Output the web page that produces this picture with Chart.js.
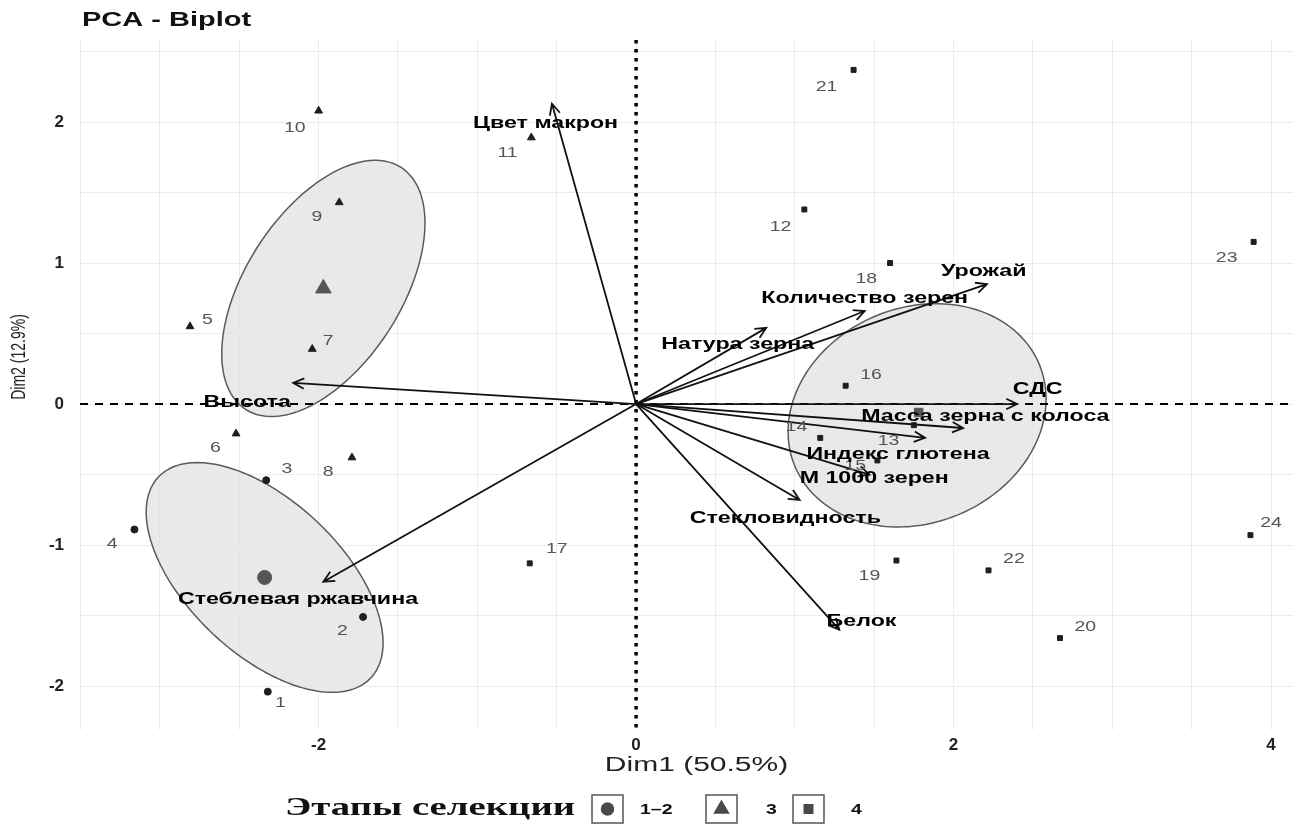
<!DOCTYPE html>
<html>
<head>
<meta charset="utf-8">
<title>PCA - Biplot</title>
<script src="https://cdn.jsdelivr.net/npm/chart.js@4.4.1/dist/chart.umd.min.js"></script>
<style>
    html, body { margin: 0; padding: 0; background: #fff; }
</style>
</head>
<body>
<canvas id="biplotChart" width="1303" height="831"></canvas>
<script>
// individuals, by selection stage
const stage12Ids = ['1', '2', '3', '4'];
const stage12X = [-2.32, -1.72, -2.33, -3.16];
const stage12Y = [-2.04, -1.51, -0.54, -0.89];
const stage12LabelX = [-2.24, -1.85, -2.20, -3.30];
const stage12LabelY = [-2.12, -1.61, -0.46, -0.99];

const stage3Ids = ['5', '6', '7', '8', '9', '10', '11'];
const stage3X = [-2.81, -2.52, -2.04, -1.79, -1.87, -2.00, -0.66];
const stage3Y = [0.55, -0.21, 0.39, -0.38, 1.43, 2.08, 1.89];
const stage3LabelX = [-2.70, -2.65, -1.94, -1.94, -2.01, -2.15, -0.81];
const stage3LabelY = [0.60, -0.31, 0.45, -0.48, 1.33, 1.96, 1.78];

const stage4Ids = ['12', '13', '14', '15', '16', '17', '18', '19', '20', '21', '22', '23', '24'];
const stage4X = [1.06, 1.75, 1.16, 1.52, 1.32, -0.67, 1.60, 1.64, 2.67, 1.37, 2.22, 3.89, 3.87];
const stage4Y = [1.38, -0.15, -0.24, -0.40, 0.13, -1.13, 1.00, -1.11, -1.66, 2.37, -1.18, 1.15, -0.93];
const stage4LabelX = [0.91, 1.59, 1.01, 1.38, 1.48, -0.50, 1.45, 1.47, 2.83, 1.20, 2.38, 3.72, 4.00];
const stage4LabelY = [1.26, -0.26, -0.16, -0.44, 0.21, -1.03, 0.89, -1.22, -1.58, 2.25, -1.10, 1.04, -0.84];

// group means and concentration ellipses
const stageNames = ['1–2', '3', '4'];
const meanX = [-2.34, -1.97, 1.78];
const meanY = [-1.23, 0.82, -0.06];
const ellipseCx = [-2.34, -1.97, 1.77];
const ellipseCy = [-1.23, 0.82, -0.08];
const ellipseA = [0.98, 0.99, 0.86];
const ellipseB = [0.51, 0.505, 0.74];
const ellipseAngle = [-49.4, 62.5, 40];

// variables (loadings)
const varNames = ['Цвет макрон', 'Урожай', 'Количество зерен', 'Натура зерна', 'СДС',
    'Масса зерна с колоса', 'Индекс глютена', 'М 1000 зерен', 'Стекловидность', 'Белок',
    'Высота', 'Стеблевая ржавчина'];
const varX = [-0.53, 2.21, 1.44, 0.82, 2.40, 2.06, 1.82, 1.47, 1.03, 1.28, -2.16, -1.97];
const varY = [2.13, 0.85, 0.66, 0.54, 0.00, -0.17, -0.24, -0.50, -0.68, -1.60, 0.15, -1.26];
const varLabelX = [-0.57, 2.19, 1.44, 0.64, 2.53, 2.20, 1.65, 1.50, 0.94, 1.42, -2.45, -2.13];
const varLabelY = [1.99, 0.94, 0.75, 0.42, 0.10, -0.09, -0.36, -0.53, -0.81, -1.54, 0.01, -1.39];

const toPoints = (xs, ys) => xs.map((x, i) => ({x: x, y: ys[i]}));

const sansFont = '"Liberation Sans", Arial, sans-serif';
// the picture is wider than tall, so its lettering is stretched sideways
const stretch = 1.45;

const wideText = (ctx, text, px, py, sx) => {
    ctx.save();
    ctx.translate(px, py);
    ctx.scale(sx, 1);
    ctx.fillText(text, 0, 0);
    ctx.restore();
};

const biplotPlugin = {
    id: 'biplotExtras',
    beforeDatasetsDraw(chart) {
        const {ctx, chartArea, scales: {x, y}} = chart;
        ctx.save();

        // ellipses
        ellipseCx.forEach((cx, i) => {
            const th = ellipseAngle[i] * Math.PI / 180;
            ctx.beginPath();
            for (let k = 0; k <= 180; k++) {
                const phi = k / 180 * 2 * Math.PI;
                const dx = ellipseA[i] * Math.cos(phi) * Math.cos(th) - ellipseB[i] * Math.sin(phi) * Math.sin(th);
                const dy = ellipseA[i] * Math.cos(phi) * Math.sin(th) + ellipseB[i] * Math.sin(phi) * Math.cos(th);
                const px = x.getPixelForValue(cx + dx);
                const py = y.getPixelForValue(ellipseCy[i] + dy);
                if (k === 0) ctx.moveTo(px, py); else ctx.lineTo(px, py);
            }
            ctx.closePath();
            ctx.fillStyle = 'rgba(226, 226, 226, 0.75)';
            ctx.fill();
            ctx.strokeStyle = '#5a5a5a';
            ctx.lineWidth = 1.5;
            ctx.stroke();
        });

        // zero lines
        const x0 = x.getPixelForValue(0);
        const y0 = y.getPixelForValue(0);
        ctx.strokeStyle = '#000';
        ctx.lineWidth = 2;
        ctx.setLineDash([8, 7]);
        ctx.beginPath();
        ctx.moveTo(chartArea.left, y0);
        ctx.lineTo(chartArea.right, y0);
        ctx.stroke();
        ctx.lineWidth = 3.5;
        ctx.setLineDash([3.5, 5.5]);
        ctx.beginPath();
        ctx.moveTo(x0, chartArea.top);
        ctx.lineTo(x0, chartArea.bottom);
        ctx.stroke();
        ctx.setLineDash([]);

        // variable arrows
        ctx.strokeStyle = '#111';
        ctx.lineWidth = 1.8;
        varX.forEach((vx, i) => {
            const tx = x.getPixelForValue(vx);
            const ty = y.getPixelForValue(varY[i]);
            const ang = Math.atan2(ty - y0, tx - x0);
            ctx.beginPath();
            ctx.moveTo(x0, y0);
            ctx.lineTo(tx, ty);
            ctx.moveTo(tx - 12 * Math.cos(ang - 0.45), ty - 12 * Math.sin(ang - 0.45));
            ctx.lineTo(tx, ty);
            ctx.lineTo(tx - 12 * Math.cos(ang + 0.45), ty - 12 * Math.sin(ang + 0.45));
            ctx.stroke();
        });
        ctx.restore();
    },
    afterDatasetsDraw(chart) {
        const {ctx, chartArea, scales: {x, y}} = chart;
        ctx.save();
        ctx.textAlign = 'center';
        ctx.textBaseline = 'middle';

        // point labels
        ctx.fillStyle = '#555';
        ctx.font = '15px ' + sansFont;
        [[stage12Ids, stage12LabelX, stage12LabelY],
         [stage3Ids, stage3LabelX, stage3LabelY],
         [stage4Ids, stage4LabelX, stage4LabelY]].forEach(([ids, lx, ly]) => {
            ids.forEach((id, i) => {
                wideText(ctx, id, x.getPixelForValue(lx[i]), y.getPixelForValue(ly[i]), 1.3);
            });
        });

        // variable labels
        ctx.fillStyle = '#000';
        ctx.font = 'bold 16px ' + sansFont;
        varNames.forEach((name, i) => {
            wideText(ctx, name, x.getPixelForValue(varLabelX[i]), y.getPixelForValue(varLabelY[i]), stretch);
        });

        // axis titles
        ctx.fillStyle = '#222';
        ctx.font = '20px ' + sansFont;
        wideText(ctx, 'Dim1 (50.5%)', (chartArea.left + chartArea.right) / 2 + 10, 765, 1.5);
        ctx.save();
        ctx.translate(19, 357);
        ctx.rotate(-Math.PI / 2);
        ctx.scale(1, 1.5);
        ctx.font = '14px ' + sansFont;
        ctx.fillText('Dim2 (12.9%)', 0, 0);
        ctx.restore();

        // title
        ctx.textAlign = 'left';
        ctx.font = 'bold 20px ' + sansFont;
        ctx.fillStyle = '#111';
        wideText(ctx, 'PCA - Biplot', chartArea.left + 2, 20, stretch);

        // legend
        const ly = 809;
        ctx.font = 'bold 25px "Liberation Serif", "Times New Roman", serif';
        ctx.fillStyle = '#111';
        wideText(ctx, 'Этапы селекции', 285, ly, 1.55);
        const boxLeft = [592, 706, 793];
        const textLeft = [640, 766, 851];
        const styles = ['circle', 'triangle', 'rect'];
        boxLeft.forEach((bx, i) => {
            ctx.strokeStyle = '#555';
            ctx.lineWidth = 1.5;
            ctx.strokeRect(bx, ly - 14, 31, 28);
            ctx.fillStyle = '#4a4a4a';
            ctx.strokeStyle = '#4a4a4a';
            Chart.helpers.drawPoint(ctx, {
                pointStyle: styles[i],
                radius: i === 1 ? 8 : 6,
                borderWidth: 1,
            }, bx + 15.5, ly);
            ctx.fillStyle = '#111';
            ctx.font = 'bold 15px ' + sansFont;
            wideText(ctx, stageNames[i], textLeft[i], ly + 1, 1.3);
        });
        ctx.restore();
    },
};

const pointColor = '#1e1e1e';
const meanColor = '#555555';

new Chart(document.getElementById('biplotChart'), {
    type: 'scatter',
    data: {
        datasets: [
            {
                label: '1–2',
                data: toPoints(stage12X, stage12Y),
                pointStyle: 'circle',
                pointRadius: 3.5,
                backgroundColor: pointColor,
                borderColor: pointColor,
            },
            {
                label: '3',
                data: toPoints(stage3X, stage3Y),
                pointStyle: 'triangle',
                pointRadius: 4.5,
                backgroundColor: pointColor,
                borderColor: pointColor,
            },
            {
                label: '4',
                data: toPoints(stage4X, stage4Y),
                pointStyle: 'rect',
                pointRadius: 3.5,
                backgroundColor: pointColor,
                borderColor: pointColor,
            },
            {
                label: 'means',
                data: toPoints(meanX, meanY),
                pointStyle: ['circle', 'triangle', 'rect'],
                pointRadius: [7, 9, 6],
                backgroundColor: meanColor,
                borderColor: meanColor,
            },
        ],
    },
    options: {
        responsive: false,
        devicePixelRatio: 1,
        animation: false,
        layout: {
            padding: {top: 40, right: 8, bottom: 55, left: 0},
        },
        plugins: {
            legend: {display: false},
            tooltip: {enabled: false},
        },
        scales: {
            x: {
                type: 'linear',
                min: -3.503,
                max: 4.138,
                afterFit: (scale) => { scale.height = 46; },
                grid: {color: '#ececec', drawTicks: false},
                border: {display: false},
                ticks: {
                    stepSize: 0.5,
                    includeBounds: false,
                    padding: 5,
                    color: '#222',
                    font: {size: 17, family: sansFont, weight: 'bold'},
                    callback: (v) => Number.isInteger(v) && v % 2 === 0 ? String(v) : '',
                },
            },
            y: {
                type: 'linear',
                min: -2.312,
                max: 2.582,
                afterFit: (scale) => { scale.width = 80; },
                grid: {color: '#ececec', drawTicks: false},
                border: {display: false},
                ticks: {
                    stepSize: 0.5,
                    includeBounds: false,
                    padding: 16,
                    color: '#222',
                    font: {size: 17, family: sansFont, weight: 'bold'},
                    callback: (v) => Number.isInteger(v) ? String(v) : '',
                },
            },
        },
    },
    plugins: [biplotPlugin],
});
</script>
</body>
</html>
